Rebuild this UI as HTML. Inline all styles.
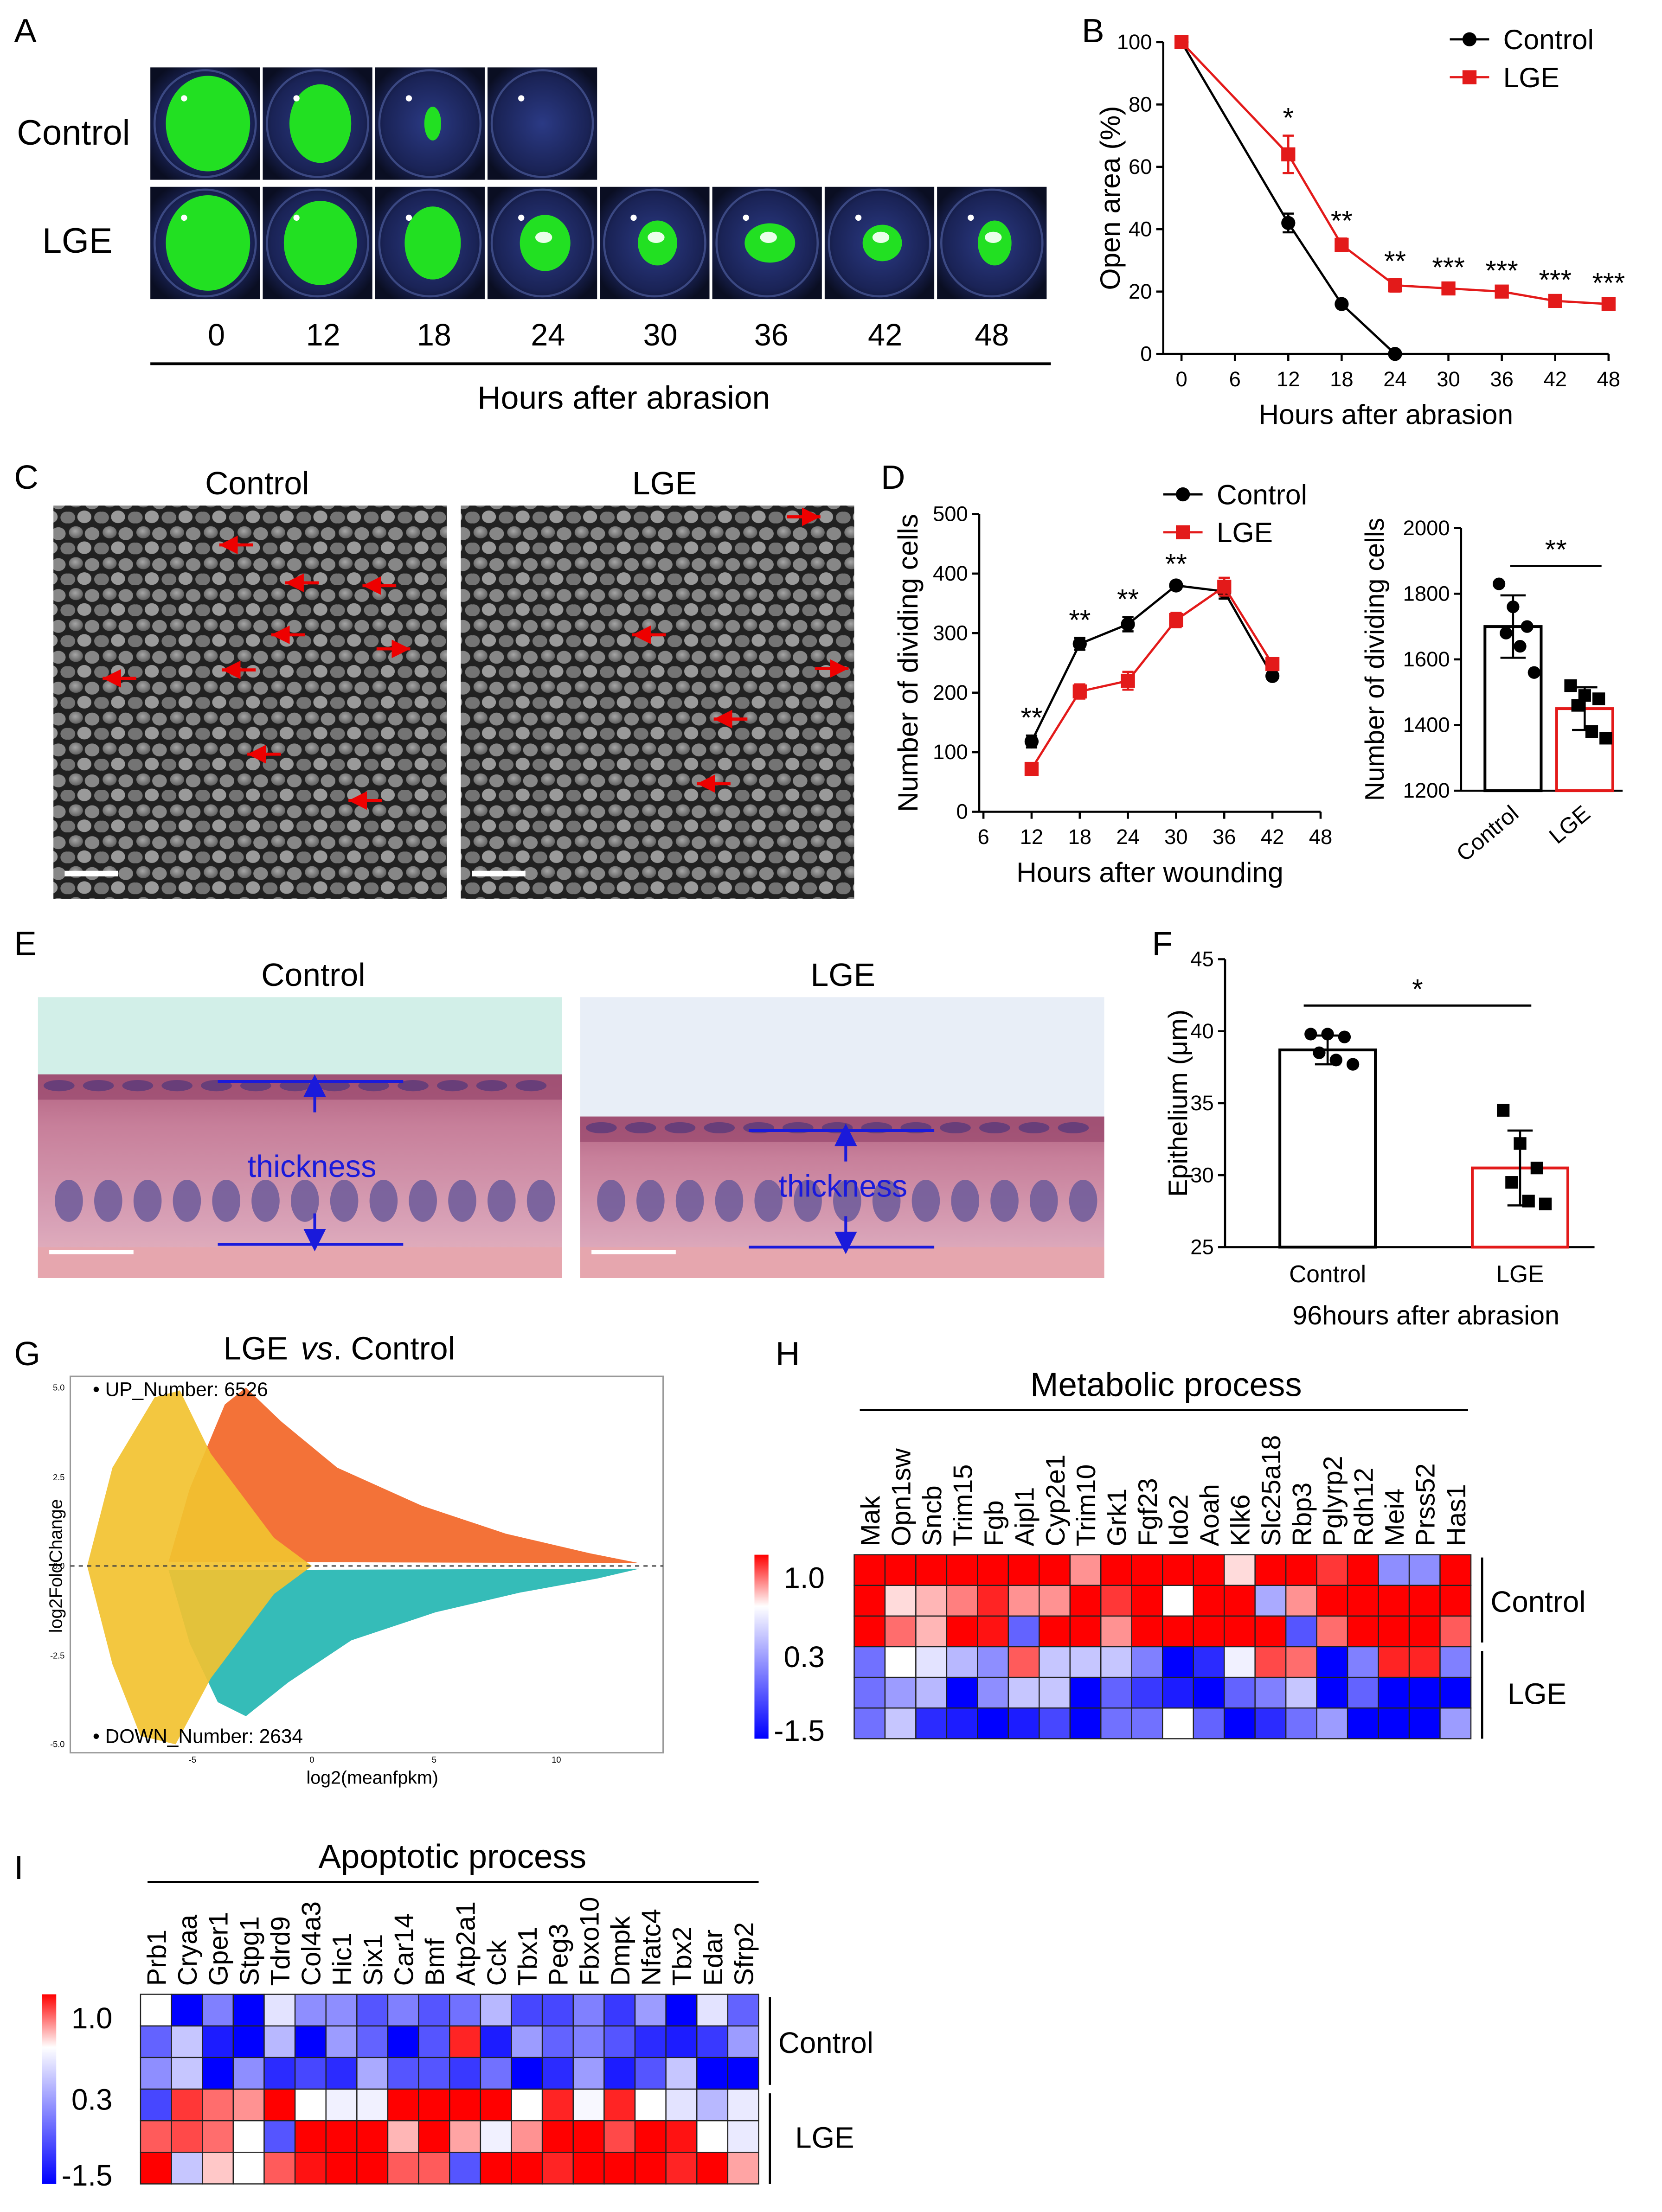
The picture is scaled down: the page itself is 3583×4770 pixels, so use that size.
<!DOCTYPE html>
<html><head><meta charset="utf-8"><style>
html,body{margin:0;padding:0;background:#fff}
svg{display:block}
text{font-family:"Liberation Sans",Arial,sans-serif}
</style></head>
<body>
<svg id="fig" xmlns="http://www.w3.org/2000/svg" width="3583" height="4770" viewBox="0 0 1183 1575">
<defs>
<radialGradient id="eyeBg" cx="50%" cy="50%" r="60%"><stop offset="0" stop-color="#2b3a85"/><stop offset="0.7" stop-color="#1a2356"/><stop offset="1" stop-color="#0a0e22"/></radialGradient>
<radialGradient id="cellG" cx="45%" cy="40%" r="60%"><stop offset="0" stop-color="#bdbdbd"/><stop offset="1" stop-color="#707070"/></radialGradient>
<pattern id="cells" width="24" height="22" patternUnits="userSpaceOnUse">
<rect width="24" height="22" fill="#262626"/>
<ellipse cx="6" cy="5" rx="5" ry="4.3" fill="url(#cellG)"/>
<ellipse cx="17.5" cy="6" rx="5.2" ry="4.6" fill="#9a9a9a"/>
<ellipse cx="12" cy="16" rx="5" ry="4.5" fill="#b0b0b0"/>
<ellipse cx="1" cy="16.5" rx="4.5" ry="4.2" fill="#858585"/>
<ellipse cx="23.5" cy="16.5" rx="4.5" ry="4.2" fill="#858585"/>
</pattern>
<linearGradient id="cbar" x1="0" y1="0" x2="0" y2="1"><stop offset="0" stop-color="#ff0000"/><stop offset="0.28" stop-color="#ffffff"/><stop offset="1" stop-color="#0000ff"/></linearGradient>
<linearGradient id="tissue" x1="0" y1="0" x2="0" y2="1"><stop offset="0" stop-color="#b0607f"/><stop offset="0.25" stop-color="#c77f9a"/><stop offset="0.75" stop-color="#d9a3b8"/><stop offset="1" stop-color="#e8b7c0"/></linearGradient>
<marker id="arrB" markerWidth="8" markerHeight="8" refX="4" refY="4" orient="auto"><path d="M0,0 L8,4 L0,8 z" fill="#1a1adb"/></marker>
<marker id="arrR" markerWidth="6" markerHeight="6" refX="6" refY="3" orient="auto"><path d="M0,0 L6,3 L0,6 z" fill="#e00"/></marker>
</defs>
<g id="root"></g>
</svg>
<script>
// ===== Chart data =====
const bHours = [0, 12, 18, 24, 30, 36, 42, 48];
const bControlHours = [0, 12, 18, 24];
const bControl = [100, 42, 16, 0];
const bControlErr = [0, 3, 1, 0];
const bLGE = [100, 64, 35, 22, 21, 20, 17, 16];
const bLGEErr = [0, 6, 2, 2, 1, 1, 1, 1];
const bStars = ["", "*", "**", "**", "***", "***", "***", "***"];
const bXTicks = [0, 6, 12, 18, 24, 30, 36, 42, 48];
const bYTicks = [0, 20, 40, 60, 80, 100];

const dHours = [12, 18, 24, 30, 36, 42];
const dControl = [118, 282, 315, 380, 370, 228];
const dControlErr = [10, 10, 12, 6, 12, 5];
const dLGE = [72, 202, 220, 322, 378, 248];
const dLGEErr = [6, 12, 15, 12, 15, 10];
const dStars = ["**", "**", "**", "**", "", ""];
const dXTicks = [6, 12, 18, 24, 30, 36, 42, 48];
const dYTicks = [0, 100, 200, 300, 400, 500];

const d2Groups = ["Control", "LGE"];
const d2Means = [1700, 1450];
const d2Err = [95, 65];
const d2PtsControl = [1830, 1760, 1700, 1680, 1640, 1560];
const d2PtsLGE = [1520, 1490, 1480, 1460, 1380, 1360];
const d2YTicks = [1200, 1400, 1600, 1800, 2000];

const fGroups = ["Control", "LGE"];
const fMeans = [38.7, 30.5];
const fErr = [1.0, 2.6];
const fPtsControl = [39.8, 39.8, 39.6, 38.5, 38.0, 37.7];
const fPtsLGE = [34.5, 32.2, 30.5, 29.5, 28.2, 28.0];
const fYTicks = [25, 30, 35, 40, 45];

const hGenes = ["Mak","Opn1sw","Sncb","Trim15","Fgb","Aipl1","Cyp2e1","Trim10","Grk1","Fgf23","Ido2","Aoah","Klk6","Slc25a18","Rbp3","Pglyrp2","Rdh12","Mei4","Prss52","Has1"];
const hRow1 = [1,1,1,1,1,1,1,0.6,1,1,1,1,0.4,1,1,0.85,1,-0.5,-0.5,1];
const hRow2 = [1,0.4,0.5,0.65,0.9,0.6,0.6,1,0.85,1,0.3,1,1,-0.3,0.6,1,1,1,1,1];
const hRow3 = [1,0.7,0.5,1,0.95,-0.8,1,1,0.6,1,1,1,1,1,-0.9,0.7,1,1,1,0.75];
const hRow4 = [-0.7,0.3,0.1,-0.2,-0.5,0.75,-0.1,-0.1,-0.1,-0.6,-1.5,-1.2,0.2,0.8,0.7,-1.5,-0.6,0.9,0.9,-0.6];
const hRow5 = [-0.7,-0.4,-0.2,-1.5,-0.5,-0.1,-0.1,-1.5,-0.8,-1.1,-1.3,-1.5,-0.8,-0.6,-0.1,-1.5,-0.8,-1.5,-1.5,-1.5];
const hRow6 = [-0.7,-0.1,-1.2,-1.3,-1.5,-1.3,-1.0,-1.5,-0.7,-0.7,0.3,-0.8,-1.5,-1.2,-0.7,-0.4,-1.5,-1.5,-1.5,-0.4];

const iGenes = ["Prb1","Cryaa","Gper1","Stpg1","Tdrd9","Col4a3","Hic1","Six1","Car14","Bmf","Atp2a1","Cck","Tbx1","Peg3","Fbxo10","Dmpk","Nfatc4","Tbx2","Edar","Sfrp2"];
const iRow1 = [0.3,-1.5,-0.6,-1.5,0.1,-0.5,-0.5,-0.9,-0.6,-0.9,-0.7,-0.2,-1.0,-1.0,-0.6,-1.1,-0.4,-1.5,0.1,-0.8];
const iRow2 = [-0.8,-0.1,-1.3,-1.5,-0.2,-1.5,-0.4,-0.8,-1.5,-0.9,0.9,-1.3,-0.4,-0.8,-0.6,-0.9,-1.2,-1.3,-1.1,-0.4];
const iRow3 = [-0.5,-0.1,-1.5,-0.5,-1.2,-1.0,-1.2,-0.3,-0.9,-0.9,-1.1,-0.7,-1.5,-1.2,-0.4,-1.3,-0.9,-0.1,-1.5,-1.5];
const iRow4 = [-1.0,0.85,0.7,0.6,1.0,0.3,0.2,0.2,1.0,1.0,1.0,1.0,0.3,0.9,0.25,0.9,0.3,0.1,-0.2,0.15];
const iRow5 = [0.75,0.8,0.7,0.3,-0.9,1,1,1,0.5,1,0.55,0.2,0.6,1,1,0.8,1,0.95,0.3,0.15];
const iRow6 = [1,-0.1,0.45,0.3,0.75,0.95,1,1,0.75,0.75,-0.9,1,1,0.9,1,1,1,0.9,1,0.55];

// ===== helpers =====
const NS = "http://www.w3.org/2000/svg";
const root = document.getElementById("root");
function mk(tag, a, parent) {
  const e = document.createElementNS(NS, tag);
  for (const k in a) e.setAttribute(k, a[k]);
  (parent || root).appendChild(e);
  return e;
}
function txt(s, x, y, size, opts, parent) {
  const a = Object.assign({x: x, y: y, "font-size": size, fill: "#000"}, opts || {});
  const e = mk("text", a, parent);
  e.textContent = s;
  return e;
}
function grp(name) {
  const g = mk("g", {});
  
  
  return g;
}
function heat(v) {
  if (v >= 0.3) { const t = Math.min(1, (v - 0.3) / 0.7); const c = Math.round(255 * (1 - t)); return `rgb(255,${c},${c})`; }
  const t = Math.min(1, (0.3 - v) / 1.8); const c = Math.round(255 * (1 - t)); return `rgb(${c},${c},255)`;
}

// ===== Panel letters =====
[["A",10,30],["B",770,30],["C",10,348],["D",627,348],["E",10,680],["F",820,680],["G",10,972],["H",552,972],["I",10,1338]].forEach(p => {
  const t = txt(p[0], p[1], p[2], 24);
  
  
});

// ===== Panel A =====
(function () {
  const g = grp("panel-a-eye-images");
  const ctrlSizes = [[30, 34], [22, 28], [6, 12], [0, 0]];
  const lgeSizes = [[30, 34], [26, 30], [20, 26], [18, 20], [14, 16], [18, 14], [14, 13], [12, 16]];
  function eye(x, y, s, name, sp) {
    const r = mk("rect", {x: x, y: y, width: 78, height: 80, fill: "url(#eyeBg)"}, g);
    
    
    mk("ellipse", {cx: x + 39, cy: y + 40, rx: 36, ry: 38, fill: "none", stroke: "#5566aa", "stroke-width": 1.5, opacity: 0.6}, g);
    if (s[0] > 0) mk("ellipse", {cx: x + 41, cy: y + 40, rx: s[0], ry: s[1], fill: "#22e022"}, g);
    if (sp) mk("ellipse", {cx: x + 40, cy: y + 36, rx: 6, ry: 4, fill: "#eaffea"}, g);
    mk("circle", {cx: x + 24, cy: y + 22, r: 2.2, fill: "#fff"}, g);
  }
  ctrlSizes.forEach((s, i) => eye(107 + 80 * i, 48, s, "control-eye-" + i, false));
  lgeSizes.forEach((s, i) => eye(107 + 80 * i, 133, s, "lge-eye-" + i, i >= 3));
  let t = txt("Control", 12, 103, 25, {}, g);
  
  
  t = txt("LGE", 30, 180, 25, {}, g);
  
  
  const hx = [154, 230, 309, 390, 470, 549, 630, 706];
  ["0", "12", "18", "24", "30", "36", "42", "48"].forEach((s, i) => {
    const e = txt(s, hx[i], 246, 22, {"text-anchor": "middle"}, g);
    
    
  });
  const l = mk("line", {x1: 107, y1: 259, x2: 748, y2: 259, stroke: "#000", "stroke-width": 2}, g);
  
  
  t = txt("Hours after abrasion", 444, 291, 23, {"text-anchor": "middle"}, g);
  
  
})();

// ===== generic line chart =====
function lineChart(cfg) {
  const g = grp(cfg.name);
  const X = h => cfg.x0 + (h - cfg.xmin) * (cfg.x1 - cfg.x0) / (cfg.xmax - cfg.xmin);
  const Y = v => cfg.y0 - (v - cfg.ymin) * (cfg.y0 - cfg.y1) / (cfg.ymax - cfg.ymin);
  let e = mk("line", {x1: cfg.ax, y1: Y(cfg.ymin), x2: cfg.ax, y2: Y(cfg.ymax), stroke: "#000", "stroke-width": 1.5}, g);
  
  
  e = mk("line", {x1: cfg.ax, y1: cfg.y0, x2: X(cfg.xmax), y2: cfg.y0, stroke: "#000", "stroke-width": 1.5}, g);
  
  
  cfg.yt.forEach(v => {
    mk("line", {x1: cfg.ax - 5, y1: Y(v), x2: cfg.ax, y2: Y(v), stroke: "#000", "stroke-width": 1.5}, g);
    const t = txt(String(v), cfg.ax - 8, Y(v) + 5, 15, {"text-anchor": "end"}, g);
    
    
  });
  cfg.xt.forEach(v => {
    mk("line", {x1: X(v), y1: cfg.y0, x2: X(v), y2: cfg.y0 + 5, stroke: "#000", "stroke-width": 1.5}, g);
    const t = txt(String(v), X(v), cfg.y0 + 23, 15, {"text-anchor": "middle"}, g);
    
    
  });
  let t = txt(cfg.xtitle, (cfg.ax + X(cfg.xmax)) / 2, cfg.y0 + 50, 20, {"text-anchor": "middle"}, g);
  
  
  const yc = (Y(cfg.ymin) + Y(cfg.ymax)) / 2;
  t = txt(cfg.ytitle, cfg.ytx, yc, 20, {"text-anchor": "middle", transform: `rotate(-90 ${cfg.ytx} ${yc})`}, g);
  
  
  function series(hs, vs, errs, color, square, name) {
    const p = mk("polyline", {points: hs.map((h, i) => X(h) + "," + Y(vs[i])).join(" "), fill: "none", stroke: color, "stroke-width": 1.6}, g);
    
    
    hs.forEach((h, i) => {
      if (errs[i] > 0) {
        mk("line", {x1: X(h), y1: Y(vs[i] - errs[i]), x2: X(h), y2: Y(vs[i] + errs[i]), stroke: color, "stroke-width": 1.5}, g);
        mk("line", {x1: X(h) - 4, y1: Y(vs[i] + errs[i]), x2: X(h) + 4, y2: Y(vs[i] + errs[i]), stroke: color, "stroke-width": 1.5}, g);
        mk("line", {x1: X(h) - 4, y1: Y(vs[i] - errs[i]), x2: X(h) + 4, y2: Y(vs[i] - errs[i]), stroke: color, "stroke-width": 1.5}, g);
      }
      let m;
      if (square) m = mk("rect", {x: X(h) - 5, y: Y(vs[i]) - 5, width: 10, height: 10, fill: color}, g);
      else m = mk("circle", {cx: X(h), cy: Y(vs[i]), r: 5, fill: color}, g);
      
      
    });
  }
  series(cfg.cH, cfg.cV, cfg.cE, "#000", false, "control");
  series(cfg.lH, cfg.lV, cfg.lE, "#e31a1a", true, "lge");
  cfg.stars.forEach((s, i) => {
    if (!s) return;
    const v = cfg.starRef[i] + cfg.starErr[i];
    const st = txt(s, X(cfg.starH[i]), Y(v) - 6, 20, {"text-anchor": "middle"}, g);
    
    
  });
  const lg = mk("g", {}, g);
  
  
  mk("line", {x1: cfg.lx - 14, y1: cfg.ly, x2: cfg.lx + 14, y2: cfg.ly, stroke: "#000", "stroke-width": 1.6}, lg);
  mk("circle", {cx: cfg.lx, cy: cfg.ly, r: 5, fill: "#000"}, lg);
  t = txt("Control", cfg.lx + 24, cfg.ly + 7, 20, {}, lg);
  
  
  mk("line", {x1: cfg.lx - 14, y1: cfg.ly + 27, x2: cfg.lx + 14, y2: cfg.ly + 27, stroke: "#e31a1a", "stroke-width": 1.6}, lg);
  mk("rect", {x: cfg.lx - 5, y: cfg.ly + 22, width: 10, height: 10, fill: "#e31a1a"}, lg);
  t = txt("LGE", cfg.lx + 24, cfg.ly + 34, 20, {}, lg);
  
  
}

lineChart({name: "panel-b-open-area-chart", ax: 828, x0: 841, x1: 1145, xmin: 0, xmax: 48, y0: 252, y1: 30, ymin: 0, ymax: 100,
  xt: bXTicks, yt: bYTicks, xtitle: "Hours after abrasion", ytitle: "Open area (%)", ytx: 797,
  cH: bControlHours, cV: bControl, cE: bControlErr, lH: bHours, lV: bLGE, lE: bLGEErr,
  stars: bStars, starH: bHours, starRef: bLGE, starErr: bLGEErr, lx: 1046, ly: 28});

lineChart({name: "panel-d-dividing-cells-chart", ax: 697, x0: 700, x1: 940, xmin: 6, xmax: 48, y0: 578, y1: 366, ymin: 0, ymax: 500,
  xt: dXTicks, yt: dYTicks, xtitle: "Hours after wounding", ytitle: "Number of dividing cells", ytx: 653,
  cH: dHours, cV: dControl, cE: dControlErr, lH: dHours, lV: dLGE, lE: dLGEErr,
  stars: dStars, starH: dHours, starRef: dControl, starErr: dControlErr, lx: 842, ly: 352});

// ===== generic bar chart =====
function barChart(cfg) {
  const g = grp(cfg.name);
  const Y = v => cfg.y0 - (v - cfg.ymin) * (cfg.y0 - cfg.y1) / (cfg.ymax - cfg.ymin);
  let e = mk("line", {x1: cfg.ax, y1: cfg.y0, x2: cfg.ax, y2: cfg.y1, stroke: "#000", "stroke-width": 1.5}, g);
  
  
  e = mk("line", {x1: cfg.ax, y1: cfg.y0, x2: cfg.axEnd, y2: cfg.y0, stroke: "#000", "stroke-width": 1.5}, g);
  
  
  cfg.yt.forEach(v => {
    mk("line", {x1: cfg.ax - 5, y1: Y(v), x2: cfg.ax, y2: Y(v), stroke: "#000", "stroke-width": 1.5}, g);
    const t = txt(String(v), cfg.ax - 8, Y(v) + 5, 15, {"text-anchor": "end"}, g);
    
    
  });
  const yc = (cfg.y0 + cfg.y1) / 2;
  let t = txt(cfg.ytitle, cfg.ytx, yc, 19, {"text-anchor": "middle", transform: `rotate(-90 ${cfg.ytx} ${yc})`}, g);
  
  
  const colors = ["#000", "#e31a1a"];
  const pts = [cfg.pc, cfg.pl];
  cfg.groups.forEach((gname, i) => {
    const cx = cfg.cx[i];
    const b = mk("rect", {x: cx - cfg.bw / 2, y: Y(cfg.means[i]), width: cfg.bw, height: cfg.y0 - Y(cfg.means[i]), fill: "none", stroke: colors[i], "stroke-width": 2}, g);
    
    
    const hi = Y(cfg.means[i] + cfg.err[i]), lo = Y(cfg.means[i] - cfg.err[i]);
    mk("line", {x1: cx, y1: hi, x2: cx, y2: lo, stroke: "#000", "stroke-width": 1.5}, g);
    mk("line", {x1: cx - 9, y1: hi, x2: cx + 9, y2: hi, stroke: "#000", "stroke-width": 1.5}, g);
    mk("line", {x1: cx - 9, y1: lo, x2: cx + 9, y2: lo, stroke: "#000", "stroke-width": 1.5}, g);
    pts[i].forEach((v, j) => {
      const dx = ((j % 3) - 1) * cfg.jit + (j >= 3 ? cfg.jit / 2 : 0);
      let m;
      if (i === 0) m = mk("circle", {cx: cx + dx, cy: Y(v), r: 4.5, fill: "#000"}, g);
      else m = mk("rect", {x: cx + dx - 4.5, y: Y(v) - 4.5, width: 9, height: 9, fill: "#000"}, g);
      
      
    });
    let lt;
    if (cfg.rot) lt = txt(gname, cx + 5, cfg.y0 + 18, 16, {"text-anchor": "end", transform: `rotate(-40 ${cx + 5} ${cfg.y0 + 18})`}, g);
    else lt = txt(gname, cx, cfg.y0 + 25, 17, {"text-anchor": "middle"}, g);
    
    
  });
  const s = mk("line", {x1: cfg.sx0, y1: cfg.sy, x2: cfg.sx1, y2: cfg.sy, stroke: "#000", "stroke-width": 1.5}, g);
  
  
  t = txt(cfg.star, (cfg.sx0 + cfg.sx1) / 2, cfg.sy - 5, 20, {"text-anchor": "middle"}, g);
  
  
  return g;
}
barChart({name: "panel-d-total-dividing-cells-bars", ax: 1040, axEnd: 1155, y0: 563, y1: 376, ymin: 1200, ymax: 2000, yt: d2YTicks,
  ytitle: "Number of dividing cells", ytx: 985, groups: d2Groups, cx: [1077, 1128], bw: 40, means: d2Means, err: d2Err,
  pc: d2PtsControl, pl: d2PtsLGE, jit: 10, rot: true, sx0: 1075, sx1: 1140, sy: 403, star: "**"});
const fg = barChart({name: "panel-f-epithelium-bars", ax: 872, axEnd: 1135, y0: 888, y1: 683, ymin: 25, ymax: 45, yt: fYTicks,
  ytitle: "Epithelium (μm)", ytx: 845, groups: fGroups, cx: [945, 1082], bw: 68, means: fMeans, err: fErr,
  pc: fPtsControl, pl: fPtsLGE, jit: 12, rot: false, sx0: 928, sx1: 1090, sy: 716, star: "*"});
(function () {
  const t = txt("96hours after abrasion", 1015, 943, 19, {"text-anchor": "middle"}, fg);
  
  
})();

// ===== Panel C micrographs =====
(function () {
  const g = grp("panel-c-micrographs");
  [[38, "Control", 183], [328, "LGE", 473]].forEach((p, k) => {
    const r = mk("rect", {x: p[0], y: 360, width: 280, height: 280, fill: "url(#cells)"}, g);
    
    
    mk("rect", {x: p[0], y: 360, width: 280, height: 280, fill: "#000", opacity: 0.12}, g);
    const t = txt(p[1], p[2], 352, 23, {"text-anchor": "middle"}, g);
    
    
    mk("rect", {x: p[0] + 8, y: 620, width: 38, height: 4, fill: "#fff"}, g);
  });
  const arrows = [[168,388,-1],[215,415,-1],[270,417,-1],[205,452,-1],[280,462,1],[170,477,-1],[85,483,-1],[188,537,-1],[260,570,-1],[462,452,-1],[572,368,1],[592,476,1],[520,512,-1],[508,558,-1]];
  arrows.forEach(a => {
    const l = mk("line", {x1: a[0] - a[2] * 12, y1: a[1], x2: a[0] + a[2] * 12, y2: a[1], stroke: "#e00", "stroke-width": 2.2, "marker-end": "url(#arrR)"}, g);
    
    
  });
})();

// ===== Panel E histology =====
(function () {
  const g = grp("panel-e-histology");
  [[27, "Control", 223, 765, 770, 886, 155, 287, 224, 838, "#d2efe8"], [413, "LGE", 600, 795, 805, 888, 533, 665, 602, 852, "#e8eef7"]].forEach(p => {
    const x = p[0];
    mk("rect", {x: x, y: 710, width: 373, height: 200, fill: p[10]}, g);
    const ts = mk("rect", {x: x, y: p[3], width: 373, height: 910 - p[3], fill: "url(#tissue)"}, g);
    
    
    mk("rect", {x: x, y: p[3], width: 373, height: 18, fill: "#9c4c70", opacity: 0.8}, g);
    for (let i = 0; i < 13; i++) {
      mk("ellipse", {cx: x + 15 + i * 28, cy: p[3] + 8, rx: 11, ry: 4, fill: "#5a3a7a", opacity: 0.8}, g);
      mk("ellipse", {cx: x + 22 + i * 28, cy: 855, rx: 10, ry: 15, fill: "#6c5a9a", opacity: 0.85}, g);
    }
    mk("rect", {x: x, y: 888, width: 373, height: 22, fill: "#e6a6ae"}, g);
    const t = txt(p[1], p[2], 702, 23, {"text-anchor": "middle"}, g);
    
    
    mk("line", {x1: p[6], y1: p[4], x2: p[7], y2: p[4], stroke: "#1a1adb", "stroke-width": 2}, g);
    mk("line", {x1: p[6], y1: p[5], x2: p[7], y2: p[5], stroke: "#1a1adb", "stroke-width": 2}, g);
    mk("line", {x1: p[8], y1: p[4] + 22, x2: p[8], y2: p[4] + 3, stroke: "#1a1adb", "stroke-width": 2, "marker-end": "url(#arrB)"}, g);
    mk("line", {x1: p[8], y1: p[5] - 22, x2: p[8], y2: p[5] - 3, stroke: "#1a1adb", "stroke-width": 2, "marker-end": "url(#arrB)"}, g);
    const th = txt("thickness", p[9] === 838 ? 222 : 600, p[9], 22, {"text-anchor": "middle", fill: "#1a1adb"}, g);
    
    
    mk("rect", {x: x + 8, y: 890, width: 60, height: 3, fill: "#fff"}, g);
  });
})();

// ===== Panel G MA plot =====
(function () {
  const g = grp("panel-g-ma-plot");
  const t = txt("LGE", 205, 968, 23, {"text-anchor": "end"}, g);
  
  
  const t2 = mk("text", {x: 214, y: 968, "font-size": 23}, g);
  t2.innerHTML = '<tspan font-style="italic">vs</tspan>. Control';
  
  
  const box = mk("rect", {x: 50, y: 980, width: 422, height: 268, fill: "#fff", stroke: "#999", "stroke-width": 1}, g);
  
  
  const o = mk("polygon", {points: "120,1112 135,1060 160,1000 175,988 200,1012 240,1045 300,1072 360,1092 420,1106 455,1113", fill: "#f26322", opacity: 0.9}, g);
  
  
  const c = mk("polygon", {points: "120,1118 135,1170 155,1212 175,1222 205,1198 250,1168 310,1148 370,1134 425,1124 455,1117", fill: "#1fb5b0", opacity: 0.9}, g);
  
  
  const y = mk("polygon", {points: "62,1115 80,1045 110,995 128,990 150,1035 195,1095 222,1115 195,1135 150,1195 125,1242 100,1236 80,1185", fill: "#f2c230", opacity: 0.92}, g);
  
  
  const z = mk("line", {x1: 50, y1: 1115, x2: 472, y2: 1115, stroke: "#444", "stroke-width": 1, "stroke-dasharray": "3,3"}, g);
  
  
  [["5.0", 988], ["2.5", 1052], ["0.0", 1115], ["-2.5", 1179], ["-5.0", 1242]].forEach(a => {
    const e = txt(a[0], 46, a[1] + 2, 6, {"text-anchor": "end"}, g);
    
    
  });
  [["-5", 137], ["0", 222], ["5", 309], ["10", 396]].forEach(a => {
    const e = txt(a[0], a[1], 1255, 6, {"text-anchor": "middle"}, g);
    
    
  });
  let e = txt("•  UP_Number: 6526", 66, 994, 14, {}, g);
  
  
  e = txt("•  DOWN_Number: 2634", 66, 1241, 14, {}, g);
  
  
  e = txt("log2FoldChange", 44, 1115, 13, {"text-anchor": "middle", transform: "rotate(-90 44 1115)"}, g);
  
  
  e = txt("log2(meanfpkm)", 265, 1270, 13, {"text-anchor": "middle"}, g);
  
  
})();

// ===== heatmaps =====
function heatmap(cfg) {
  const g = grp(cfg.name);
  let e = txt(cfg.title, cfg.tx, cfg.ty, 24, {"text-anchor": "middle"}, g);
  
  
  e = mk("line", {x1: cfg.lx0, y1: cfg.ly, x2: cfg.lx1, y2: cfg.ly, stroke: "#000", "stroke-width": 1.5}, g);
  
  
  const n = cfg.genes.length, cw = (cfg.x1 - cfg.x0) / n, rh = (cfg.y1 - cfg.y0) / cfg.rows.length;
  cfg.genes.forEach((gn, i) => {
    const x = cfg.x0 + (i + 0.5) * cw + 7;
    const t = txt(gn, x, cfg.y0 - 6, 19, {transform: `rotate(-90 ${x} ${cfg.y0 - 6})`}, g);
    
    
  });
  cfg.rows.forEach((row, r) => {
    row.forEach((v, i) => {
      const c = mk("rect", {x: cfg.x0 + i * cw, y: cfg.y0 + r * rh, width: cw, height: rh, fill: heat(v), stroke: "#222", "stroke-width": 0.8}, g);
      
      
    });
  });
  e = mk("rect", {x: cfg.cbx, y: cfg.y0, width: 10, height: cfg.y1 - cfg.y0, fill: "url(#cbar)"}, g);
  
  
  [["1.0", 0.12], ["0.3", 0.55], ["-1.5", 0.95]].forEach(a => {
    const t = txt(a[0], cfg.cbx + 50, cfg.y0 + a[1] * (cfg.y1 - cfg.y0) + 8, 21, {"text-anchor": "end"}, g);
    
    
  });
  const mid = cfg.y0 + 3 * rh;
  e = mk("line", {x1: cfg.x1 + 8, y1: cfg.y0 + 2, x2: cfg.x1 + 8, y2: mid - 3, stroke: "#000", "stroke-width": 1.5}, g);
  
  
  e = mk("line", {x1: cfg.x1 + 8, y1: mid + 3, x2: cfg.x1 + 8, y2: cfg.y1, stroke: "#000", "stroke-width": 1.5}, g);
  
  
  e = txt("Control", cfg.x1 + 14, cfg.y0 + 1.5 * rh + 8, 21, {}, g);
  
  
  e = txt("LGE", cfg.x1 + 26, cfg.y0 + 4.5 * rh + 8, 21, {}, g);
  
  
}
heatmap({name: "panel-h-metabolic-heatmap", title: "Metabolic process", tx: 830, ty: 994, lx0: 612, lx1: 1045, ly: 1004,
  genes: hGenes, rows: [hRow1, hRow2, hRow3, hRow4, hRow5, hRow6], x0: 608, x1: 1047, y0: 1107, y1: 1238, cbx: 537});
heatmap({name: "panel-i-apoptotic-heatmap", title: "Apoptotic process", tx: 322, ty: 1330, lx0: 105, lx1: 540, ly: 1340,
  genes: iGenes, rows: [iRow1, iRow2, iRow3, iRow4, iRow5, iRow6], x0: 100, x1: 540, y0: 1420, y1: 1555, cbx: 30});
</script>
</body></html>
